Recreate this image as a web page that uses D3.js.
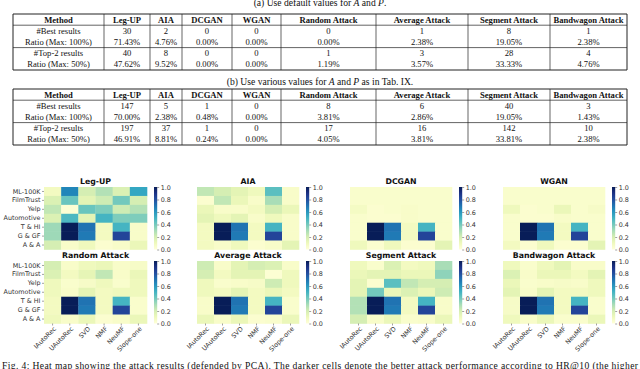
<!DOCTYPE html>
<html>
<head>
<meta charset="utf-8">
<script src="https://cdn.jsdelivr.net/npm/d3@7"></script>
<style>
  body { margin: 0; background: #fff; }
  svg { display: block; }
  .tbl text { font-family: "Liberation Serif", "Times New Roman", serif; font-size: 8.6px; fill: #111; }
  .tbl .hd { font-weight: bold; }
  .cap { font-family: "Liberation Serif", "Times New Roman", serif; font-size: 9.6px; fill: #111; }
  .hm text { font-family: "DejaVu Sans", sans-serif; fill: #333; }
  .hm .title { font-weight: bold; font-size: 7.8px; fill: #111; }
  .axis text { font-size: 6.4px; }
  .axis path { display: none; }
  .axis line { stroke: #444; stroke-width: 0.5; }
</style>
</head>
<body>
<svg width="640" height="369"></svg>
<script>
// table data
var methods = ["Method", "Leg-UP", "AIA", "DCGAN", "WGAN", "Random Attack", "Average Attack", "Segment Attack", "Bandwagon Attack"];
var rowNames = ["#Best results", "Ratio (Max: 100%)", "#Top-2 results", "Ratio (Max: 50%)"];

var bestA = ["30", "2", "0", "0", "0", "1", "8", "1"];
var bestRatioA = ["71.43%", "4.76%", "0.00%", "0.00%", "0.00%", "2.38%", "19.05%", "2.38%"];
var top2A = ["40", "8", "0", "0", "1", "3", "28", "4"];
var top2RatioA = ["47.62%", "9.52%", "0.00%", "0.00%", "1.19%", "3.57%", "33.33%", "4.76%"];

var bestB = ["147", "5", "1", "0", "8", "6", "40", "3"];
var bestRatioB = ["70.00%", "2.38%", "0.48%", "0.00%", "3.81%", "2.86%", "19.05%", "1.43%"];
var top2B = ["197", "37", "1", "0", "17", "16", "142", "10"];
var top2RatioB = ["46.91%", "8.81%", "0.24%", "0.00%", "4.05%", "3.81%", "33.81%", "2.38%"];

// heat map data (rows: datasets, columns: recommenders)
var datasets = ["ML-100K", "FilmTrust", "Yelp", "Automotive", "T & HI", "G & GF", "A & A"];
var models = ["IAutoRec", "UAutoRec", "SVD", "NMF", "NeuMF", "Slope-one"];
var panelNames = ["Leg-UP", "AIA", "DCGAN", "WGAN", "Random Attack", "Average Attack", "Segment Attack", "Bandwagon Attack"];

var legUP = [
  [0.08, 0.65, 0.20, 0.28, 0.18, 0.55],
  [0.18, 0.42, 0.15, 0.22, 0.40, 0.20],
  [0.25, 0.02, 0.42, 0.38, 0.22, 0.28],
  [0.18, 0.48, 0.15, 0.50, 0.38, 0.38],
  [0.32, 1.00, 0.70, 0.08, 0.50, 0.05],
  [0.32, 1.00, 0.68, 0.08, 0.83, 0.05],
  [0.20, 0.05, 0.10, 0.03, 0.05, 0.12]];
var aia = [
  [0.25, 0.20, 0.15, 0.10, 0.45, 0.05],
  [0.03, 0.25, 0.12, 0.05, 0.30, 0.05],
  [0.12, 0.05, 0.05, 0.08, 0.20, 0.12],
  [0.15, 0.10, 0.15, 0.05, 0.10, 0.05],
  [0.08, 1.00, 0.70, 0.08, 0.50, 0.05],
  [0.08, 1.00, 0.68, 0.08, 0.83, 0.05],
  [0.08, 0.05, 0.10, 0.03, 0.05, 0.15]];
var dcgan = [
  [0.04, 0.04, 0.04, 0.04, 0.04, 0.04],
  [0.04, 0.04, 0.04, 0.04, 0.04, 0.04],
  [0.07, 0.03, 0.04, 0.05, 0.04, 0.04],
  [0.04, 0.03, 0.03, 0.05, 0.04, 0.04],
  [0.04, 1.00, 0.70, 0.08, 0.50, 0.04],
  [0.04, 1.00, 0.68, 0.08, 0.83, 0.04],
  [0.10, 0.03, 0.10, 0.03, 0.03, 0.15]];
var wgan = [
  [0.04, 0.04, 0.04, 0.04, 0.04, 0.04],
  [0.04, 0.04, 0.04, 0.04, 0.04, 0.04],
  [0.10, 0.03, 0.04, 0.12, 0.04, 0.06],
  [0.04, 0.03, 0.03, 0.05, 0.04, 0.04],
  [0.04, 1.00, 0.70, 0.08, 0.50, 0.04],
  [0.04, 1.00, 0.68, 0.08, 0.83, 0.04],
  [0.08, 0.03, 0.10, 0.03, 0.03, 0.15]];
var randomAtk = [
  [0.20, 0.05, 0.10, 0.12, 0.05, 0.06],
  [0.18, 0.08, 0.14, 0.25, 0.05, 0.12],
  [0.10, 0.04, 0.06, 0.10, 0.04, 0.10],
  [0.10, 0.05, 0.15, 0.08, 0.10, 0.10],
  [0.08, 1.00, 0.70, 0.08, 0.50, 0.04],
  [0.08, 1.00, 0.68, 0.08, 0.83, 0.04],
  [0.10, 0.05, 0.12, 0.03, 0.05, 0.12]];
var averageAtk = [
  [0.22, 0.05, 0.15, 0.20, 0.18, 0.05],
  [0.20, 0.08, 0.15, 0.15, 0.02, 0.10],
  [0.10, 0.04, 0.05, 0.06, 0.22, 0.10],
  [0.10, 0.08, 0.15, 0.08, 0.12, 0.08],
  [0.05, 1.00, 0.70, 0.08, 0.50, 0.04],
  [0.05, 1.00, 0.68, 0.08, 0.83, 0.04],
  [0.12, 0.05, 0.12, 0.03, 0.04, 0.12]];
var segmentAtk = [
  [0.10, 0.04, 0.18, 0.08, 0.10, 0.30],
  [0.12, 0.15, 0.15, 0.12, 0.12, 0.35],
  [0.15, 0.03, 0.45, 0.25, 0.20, 0.20],
  [0.15, 0.40, 0.12, 0.18, 0.12, 0.22],
  [0.28, 1.00, 0.70, 0.08, 0.50, 0.05],
  [0.28, 1.00, 0.68, 0.08, 0.83, 0.05],
  [0.20, 0.05, 0.12, 0.04, 0.05, 0.12]];
var bandwagonAtk = [
  [0.10, 0.04, 0.10, 0.15, 0.05, 0.05],
  [0.18, 0.05, 0.12, 0.12, 0.08, 0.15],
  [0.12, 0.04, 0.05, 0.06, 0.05, 0.10],
  [0.15, 0.05, 0.15, 0.08, 0.08, 0.10],
  [0.06, 1.00, 0.70, 0.08, 0.50, 0.04],
  [0.06, 1.00, 0.68, 0.08, 0.83, 0.04],
  [0.10, 0.05, 0.12, 0.04, 0.04, 0.12]];
var cbTicks = [0, 0.2, 0.4, 0.6, 0.8, 1.0];

var svg = d3.select("svg");

// ---- tables ----
var colEdges = [13, 104, 150, 182, 232, 281, 376, 468, 550, 627];

function drawTable(top, cols) {
  var g = svg.append("g").attr("class", "tbl");
  var rowH = 11.2;
  var bottom = top + rowH * 5;
  var hLines = [top, top + rowH, top + rowH * 3, bottom];

  g.selectAll("line.h").data(hLines).enter().append("line")
      .attr("x1", colEdges[0]).attr("x2", colEdges[colEdges.length - 1])
      .attr("y1", function(d) { return d; }).attr("y2", function(d) { return d; })
      .attr("stroke", "#222").attr("stroke-width", function(d, i) { return (i === 0 || i === 3) ? 1 : 0.7; });

  g.selectAll("line.v").data(colEdges).enter().append("line")
      .attr("x1", function(d) { return d; }).attr("x2", function(d) { return d; })
      .attr("y1", top).attr("y2", bottom)
      .attr("stroke", "#222").attr("stroke-width", function(d, i) { return (i === 0 || i === colEdges.length - 1) ? 1 : 0.7; });

  var mid = function(i) { return (colEdges[i] + colEdges[i + 1]) / 2; };

  g.selectAll("text.hd").data(methods).enter().append("text")
      .attr("class", "hd")
      .attr("x", function(d, i) { return mid(i); })
      .attr("y", top + rowH / 2 + 3)
      .attr("text-anchor", "middle")
      .text(function(d) { return d; });

  cols.forEach(function(vals, r) {
    var y = top + rowH * (r + 1) + rowH / 2 + 3;
    g.append("text").attr("x", mid(0)).attr("y", y).attr("text-anchor", "middle").text(rowNames[r]);
    g.selectAll(null).data(vals).enter().append("text")
        .attr("x", function(d, i) { return mid(i + 1); })
        .attr("y", y)
        .attr("text-anchor", "middle")
        .text(function(d) { return d; });
  });
}

svg.append("text").attr("class", "cap").attr("x", 320).attr("y", 6).attr("text-anchor", "middle")
    .html("(a) Use default values for <tspan font-style='italic'>A</tspan> and <tspan font-style='italic'>P</tspan>.");
drawTable(14, [bestA, bestRatioA, top2A, top2RatioA]);

svg.append("text").attr("class", "cap").attr("x", 320).attr("y", 85).attr("text-anchor", "middle")
    .html("(b) Use various values for <tspan font-style='italic'>A</tspan> and <tspan font-style='italic'>P</tspan> as in Tab. IX.");
drawTable(89, [bestB, bestRatioB, top2B, top2RatioB]);

// ---- heat maps ----
var color = d3.scaleSequential(d3.interpolateYlGnBu).domain([0, 1]);
var matrices = [legUP, aia, dcgan, wgan, randomAtk, averageAtk, segmentAtk, bandwagonAtk];
var colX = [[44, 147], [197, 299], [350, 452], [503, 605]];
var rowY = [[187, 249.5], [261, 323.5]];

var defs = svg.append("defs");
var grad = defs.append("linearGradient").attr("id", "cbar")
    .attr("x1", 0).attr("y1", 1).attr("x2", 0).attr("y2", 0);
d3.range(0, 1.001, 0.1).forEach(function(t) {
  grad.append("stop").attr("offset", t).attr("stop-color", color(t));
});

matrices.forEach(function(m, k) {
  var c = k % 4, r = Math.floor(k / 4);
  var g = svg.append("g").attr("class", "hm");

  var x = d3.scaleBand().domain(models).range(colX[c]);
  var y = d3.scaleBand().domain(datasets).range(rowY[r]);

  var cells = [];
  m.forEach(function(row, i) {
    row.forEach(function(v, j) { cells.push({ ds: datasets[i], md: models[j], v: v }); });
  });

  g.selectAll("rect.cell").data(cells).enter().append("rect")
      .attr("x", function(d) { return x(d.md); })
      .attr("y", function(d) { return y(d.ds); })
      .attr("width", x.bandwidth() + 0.3)
      .attr("height", y.bandwidth() + 0.3)
      .attr("fill", function(d) { return color(d.v); });

  g.append("text").attr("class", "title")
      .attr("x", (colX[c][0] + colX[c][1]) / 2)
      .attr("y", rowY[r][0] - 3.5)
      .attr("text-anchor", "middle")
      .text(panelNames[k]);

  if (c === 0) {
    g.append("g").attr("class", "axis")
        .attr("transform", "translate(" + colX[c][0] + ",0)")
        .call(d3.axisLeft(y).tickSize(2).tickPadding(1.5));
  }

  if (r === 1) {
    g.append("g").attr("class", "axis")
        .attr("transform", "translate(0," + rowY[r][1] + ")")
        .call(d3.axisBottom(x).tickSize(2).tickPadding(1))
      .selectAll("text")
        .attr("text-anchor", "end")
        .attr("dx", "-0.2em")
        .attr("dy", "0.6em")
        .attr("transform", "rotate(-45)");
  }

  // colour bar
  var cbX = colX[c][1] + 7;
  var cb = d3.scaleLinear().domain([0, 1]).range([rowY[r][1], rowY[r][0]]);
  g.append("rect")
      .attr("x", cbX).attr("y", rowY[r][0])
      .attr("width", 3.2).attr("height", rowY[r][1] - rowY[r][0])
      .attr("fill", "url(#cbar)");
  g.append("g").attr("class", "axis")
      .attr("transform", "translate(" + (cbX + 3.2) + ",0)")
      .call(d3.axisRight(cb).tickValues(cbTicks).tickFormat(d3.format(".1f")).tickSize(2).tickPadding(1.5));
});

svg.append("text").attr("class", "cap").attr("x", 2).attr("y", 369)
    .attr("font-size", "10.4px")
    .attr("textLength", 636).attr("lengthAdjust", "spacing")
    .text("Fig. 4: Heat map showing the attack results (defended by PCA). The darker cells denote the better attack performance according to HR@10 (the higher");
</script>
</body>
</html>
